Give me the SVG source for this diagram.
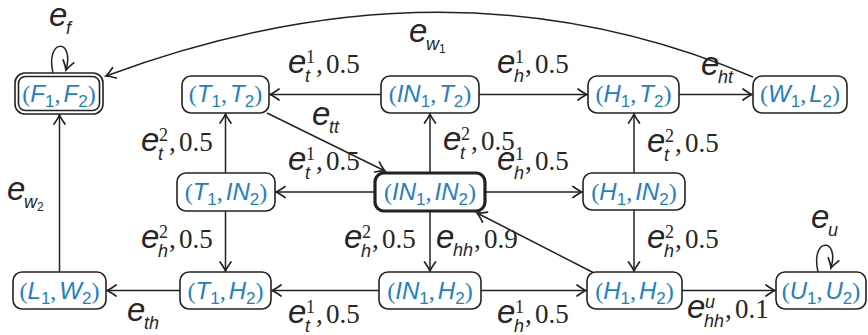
<svg xmlns="http://www.w3.org/2000/svg" width="868" height="335" viewBox="0 0 868 335">
<defs>
<marker id="ar" markerUnits="userSpaceOnUse" markerWidth="20" markerHeight="20" viewBox="-12 -10 20 20" refX="0" refY="0" orient="auto">
<path d="M-9,-5.5 Q-3,-1.2 0,0 Q-3,1.2 -9,5.5" fill="none" stroke="#222" stroke-width="1.7" stroke-linecap="round"/>
</marker>
<style>
.b{fill:#fff;stroke:#222;stroke-width:1.6}
.bt{fill:#fff;stroke:#222;stroke-width:3.2}
.n{font-family:"Liberation Sans",Arial,sans-serif;font-size:24px;fill:#1f80c3;text-anchor:middle}
.n .i{font-style:italic}
.n .p{font-family:"Liberation Serif","Times New Roman",serif;font-style:normal}
.n .d{font-size:17px}
.c path{fill:none;stroke:#222;stroke-width:1.5}
.l{fill:#262626;font-family:"Liberation Sans",Arial,sans-serif}
.l .e{font-size:33px;font-style:italic}
.l .s{font-size:18px;font-style:italic}
.l .ss{font-size:12px}
.l .u{font-family:"Liberation Serif","Times New Roman",serif;font-size:18px}
.l .m{font-family:"Liberation Serif","Times New Roman",serif;font-size:27px}
</style>
</defs>
<g class="c" id="connectors">
<path d="M381,94.5 H270" marker-end="url(#ar)"/>
<path d="M479,94.5 H587" marker-end="url(#ar)"/>
<path d="M679,94.5 H752" marker-end="url(#ar)"/>
<path d="M753,77 Q450,-52 106,76" marker-end="url(#ar)"/>
<path d="M267,113 L385,171" marker-end="url(#ar)"/>
<path d="M225.5,173 V114" marker-end="url(#ar)"/>
<path d="M225.5,211 V271" marker-end="url(#ar)"/>
<path d="M375,192 H276" marker-end="url(#ar)"/>
<path d="M485,192 H582" marker-end="url(#ar)"/>
<path d="M430,173 V114" marker-end="url(#ar)"/>
<path d="M430,211 V271" marker-end="url(#ar)"/>
<path d="M634,173 V114" marker-end="url(#ar)"/>
<path d="M634,210 V271" marker-end="url(#ar)"/>
<path d="M594,273 L477,213" marker-end="url(#ar)"/>
<path d="M379,290.5 H272" marker-end="url(#ar)"/>
<path d="M481,290.5 H586" marker-end="url(#ar)"/>
<path d="M180,290.5 H107" marker-end="url(#ar)"/>
<path d="M59.5,272 V115" marker-end="url(#ar)"/>
<path d="M682,290.5 H775" marker-end="url(#ar)"/>
<path d="M53,73 C45,38 75,38 66,70" marker-end="url(#ar)"/>
<path d="M818,272 C810,237 840,237 831,268" marker-end="url(#ar)"/>
</g>
<g id="F1F2">
<rect class="b" x="15" y="73" width="88" height="41" rx="10"/>
<rect class="b" x="18.5" y="76.5" width="81" height="34" rx="7"/>
<text class="n" x="59" y="102"><tspan class="p">(</tspan><tspan class="i">F</tspan><tspan class="d" dy="5">1</tspan><tspan class="p" dy="-5">,</tspan><tspan class="i" dx="3">F</tspan><tspan class="d" dy="5">2</tspan><tspan class="p" dy="-5">)</tspan></text>
</g>
<g id="T1T2">
<rect class="b" x="182" y="76" width="87" height="37" rx="9"/>
<text class="n" x="225.5" y="102"><tspan class="p">(</tspan><tspan class="i">T</tspan><tspan class="d" dy="5">1</tspan><tspan class="p" dy="-5">,</tspan><tspan class="i" dx="3">T</tspan><tspan class="d" dy="5">2</tspan><tspan class="p" dy="-5">)</tspan></text>
</g>
<g id="IN1T2">
<rect class="b" x="381" y="76" width="98" height="37" rx="9"/>
<text class="n" x="430" y="102"><tspan class="p">(</tspan><tspan class="i">IN</tspan><tspan class="d" dy="5">1</tspan><tspan class="p" dy="-5">,</tspan><tspan class="i" dx="3">T</tspan><tspan class="d" dy="5">2</tspan><tspan class="p" dy="-5">)</tspan></text>
</g>
<g id="H1T2">
<rect class="b" x="588" y="76" width="91" height="37" rx="9"/>
<text class="n" x="633.5" y="102"><tspan class="p">(</tspan><tspan class="i">H</tspan><tspan class="d" dy="5">1</tspan><tspan class="p" dy="-5">,</tspan><tspan class="i" dx="3">T</tspan><tspan class="d" dy="5">2</tspan><tspan class="p" dy="-5">)</tspan></text>
</g>
<g id="W1L2">
<rect class="b" x="753" y="76" width="94" height="37" rx="9"/>
<text class="n" x="800" y="102"><tspan class="p">(</tspan><tspan class="i">W</tspan><tspan class="d" dy="5">1</tspan><tspan class="p" dy="-5">,</tspan><tspan class="i" dx="3">L</tspan><tspan class="d" dy="5">2</tspan><tspan class="p" dy="-5">)</tspan></text>
</g>
<g id="T1IN2">
<rect class="b" x="177" y="173" width="98" height="38" rx="9"/>
<text class="n" x="226" y="200"><tspan class="p">(</tspan><tspan class="i">T</tspan><tspan class="d" dy="5">1</tspan><tspan class="p" dy="-5">,</tspan><tspan class="i" dx="3">IN</tspan><tspan class="d" dy="5">2</tspan><tspan class="p" dy="-5">)</tspan></text>
</g>
<g id="IN1IN2">
<rect class="bt" x="375" y="173" width="110" height="38" rx="9"/>
<text class="n" x="430" y="200"><tspan class="p">(</tspan><tspan class="i">IN</tspan><tspan class="d" dy="5">1</tspan><tspan class="p" dy="-5">,</tspan><tspan class="i" dx="3">IN</tspan><tspan class="d" dy="5">2</tspan><tspan class="p" dy="-5">)</tspan></text>
</g>
<g id="H1IN2">
<rect class="b" x="583" y="173" width="102" height="37" rx="9"/>
<text class="n" x="634" y="200"><tspan class="p">(</tspan><tspan class="i">H</tspan><tspan class="d" dy="5">1</tspan><tspan class="p" dy="-5">,</tspan><tspan class="i" dx="3">IN</tspan><tspan class="d" dy="5">2</tspan><tspan class="p" dy="-5">)</tspan></text>
</g>
<g id="L1W2">
<rect class="b" x="13" y="272" width="93" height="37" rx="9"/>
<text class="n" x="59.5" y="299"><tspan class="p">(</tspan><tspan class="i">L</tspan><tspan class="d" dy="5">1</tspan><tspan class="p" dy="-5">,</tspan><tspan class="i" dx="3">W</tspan><tspan class="d" dy="5">2</tspan><tspan class="p" dy="-5">)</tspan></text>
</g>
<g id="T1H2">
<rect class="b" x="180" y="272" width="91" height="37" rx="9"/>
<text class="n" x="225.5" y="299"><tspan class="p">(</tspan><tspan class="i">T</tspan><tspan class="d" dy="5">1</tspan><tspan class="p" dy="-5">,</tspan><tspan class="i" dx="3">H</tspan><tspan class="d" dy="5">2</tspan><tspan class="p" dy="-5">)</tspan></text>
</g>
<g id="IN1H2">
<rect class="b" x="379" y="272" width="102" height="37" rx="9"/>
<text class="n" x="430" y="299"><tspan class="p">(</tspan><tspan class="i">IN</tspan><tspan class="d" dy="5">1</tspan><tspan class="p" dy="-5">,</tspan><tspan class="i" dx="3">H</tspan><tspan class="d" dy="5">2</tspan><tspan class="p" dy="-5">)</tspan></text>
</g>
<g id="H1H2">
<rect class="b" x="587" y="272" width="95" height="37" rx="9"/>
<text class="n" x="634.5" y="299"><tspan class="p">(</tspan><tspan class="i">H</tspan><tspan class="d" dy="5">1</tspan><tspan class="p" dy="-5">,</tspan><tspan class="i" dx="3">H</tspan><tspan class="d" dy="5">2</tspan><tspan class="p" dy="-5">)</tspan></text>
</g>
<g id="U1U2">
<rect class="b" x="776" y="272" width="90" height="37" rx="9"/>
<text class="n" x="821" y="299"><tspan class="p">(</tspan><tspan class="i">U</tspan><tspan class="d" dy="5">1</tspan><tspan class="p" dy="-5">,</tspan><tspan class="i" dx="3">U</tspan><tspan class="d" dy="5">2</tspan><tspan class="p" dy="-5">)</tspan></text>
</g>
<g id="labels">
<text class="l" transform="translate(49,26)"><tspan class="e" x="0" y="0">e</tspan><tspan class="s" x="17" y="8">f</tspan></text>
<text class="l" transform="translate(409,42)"><tspan class="e" x="0" y="0">e</tspan><tspan class="s" x="17" y="8">w</tspan><tspan class="ss" x="30" y="11">1</tspan></text>
<text class="l" transform="translate(288,73)"><tspan class="e" x="0" y="0">e</tspan><tspan class="s" x="17" y="9">t</tspan><tspan class="u" x="18" y="-10">1</tspan><tspan class="m" x="28" y="0">,</tspan><tspan class="m" x="38" y="0">0.5</tspan></text>
<text class="l" transform="translate(497,73)"><tspan class="e" x="0" y="0">e</tspan><tspan class="s" x="17" y="9">h</tspan><tspan class="u" x="18" y="-10">1</tspan><tspan class="m" x="28" y="0">,</tspan><tspan class="m" x="38" y="0">0.5</tspan></text>
<text class="l" transform="translate(701,75)"><tspan class="e" x="0" y="0">e</tspan><tspan class="s" x="17" y="8">ht</tspan></text>
<text class="l" transform="translate(312,125)"><tspan class="e" x="0" y="0">e</tspan><tspan class="s" x="17" y="8">tt</tspan></text>
<text class="l" transform="translate(141,151)"><tspan class="e" x="0" y="0">e</tspan><tspan class="s" x="17" y="9">t</tspan><tspan class="u" x="18" y="-10">2</tspan><tspan class="m" x="28" y="0">,</tspan><tspan class="m" x="38" y="0">0.5</tspan></text>
<text class="l" transform="translate(288,170)"><tspan class="e" x="0" y="0">e</tspan><tspan class="s" x="17" y="9">t</tspan><tspan class="u" x="18" y="-10">1</tspan><tspan class="m" x="28" y="0">,</tspan><tspan class="m" x="38" y="0">0.5</tspan></text>
<text class="l" transform="translate(443,150)"><tspan class="e" x="0" y="0">e</tspan><tspan class="s" x="17" y="9">t</tspan><tspan class="u" x="18" y="-10">2</tspan><tspan class="m" x="28" y="0">,</tspan><tspan class="m" x="38" y="0">0.5</tspan></text>
<text class="l" transform="translate(497,170)"><tspan class="e" x="0" y="0">e</tspan><tspan class="s" x="17" y="9">h</tspan><tspan class="u" x="18" y="-10">1</tspan><tspan class="m" x="28" y="0">,</tspan><tspan class="m" x="38" y="0">0.5</tspan></text>
<text class="l" transform="translate(647,152)"><tspan class="e" x="0" y="0">e</tspan><tspan class="s" x="17" y="9">t</tspan><tspan class="u" x="18" y="-10">2</tspan><tspan class="m" x="28" y="0">,</tspan><tspan class="m" x="38" y="0">0.5</tspan></text>
<text class="l" transform="translate(7,200)"><tspan class="e" x="0" y="0">e</tspan><tspan class="s" x="17" y="8">w</tspan><tspan class="ss" x="30" y="11">2</tspan></text>
<text class="l" transform="translate(811,228)"><tspan class="e" x="0" y="0">e</tspan><tspan class="s" x="17" y="8">u</tspan></text>
<text class="l" transform="translate(141,248)"><tspan class="e" x="0" y="0">e</tspan><tspan class="s" x="17" y="9">h</tspan><tspan class="u" x="18" y="-10">2</tspan><tspan class="m" x="28" y="0">,</tspan><tspan class="m" x="38" y="0">0.5</tspan></text>
<text class="l" transform="translate(344,248)"><tspan class="e" x="0" y="0">e</tspan><tspan class="s" x="17" y="9">h</tspan><tspan class="u" x="18" y="-10">2</tspan><tspan class="m" x="28" y="0">,</tspan><tspan class="m" x="38" y="0">0.5</tspan></text>
<text class="l" transform="translate(436,248)"><tspan class="e" x="0" y="0">e</tspan><tspan class="s" x="17" y="8">hh</tspan><tspan class="m" x="38" y="0">,</tspan><tspan class="m" x="48" y="0">0.9</tspan></text>
<text class="l" transform="translate(647,248)"><tspan class="e" x="0" y="0">e</tspan><tspan class="s" x="17" y="9">h</tspan><tspan class="u" x="18" y="-10">2</tspan><tspan class="m" x="28" y="0">,</tspan><tspan class="m" x="38" y="0">0.5</tspan></text>
<text class="l" transform="translate(127,321)"><tspan class="e" x="0" y="0">e</tspan><tspan class="s" x="17" y="8">th</tspan></text>
<text class="l" transform="translate(288,323)"><tspan class="e" x="0" y="0">e</tspan><tspan class="s" x="17" y="9">t</tspan><tspan class="u" x="18" y="-10">1</tspan><tspan class="m" x="28" y="0">,</tspan><tspan class="m" x="38" y="0">0.5</tspan></text>
<text class="l" transform="translate(497,323)"><tspan class="e" x="0" y="0">e</tspan><tspan class="s" x="17" y="9">h</tspan><tspan class="u" x="18" y="-10">1</tspan><tspan class="m" x="28" y="0">,</tspan><tspan class="m" x="38" y="0">0.5</tspan></text>
<text class="l" transform="translate(687,318)"><tspan class="e" x="0" y="0">e</tspan><tspan class="s" x="17" y="9">hh</tspan><tspan class="s" x="18" y="-10">u</tspan><tspan class="m" x="38" y="0">,</tspan><tspan class="m" x="48" y="0">0.1</tspan></text>
</g>
</svg>
